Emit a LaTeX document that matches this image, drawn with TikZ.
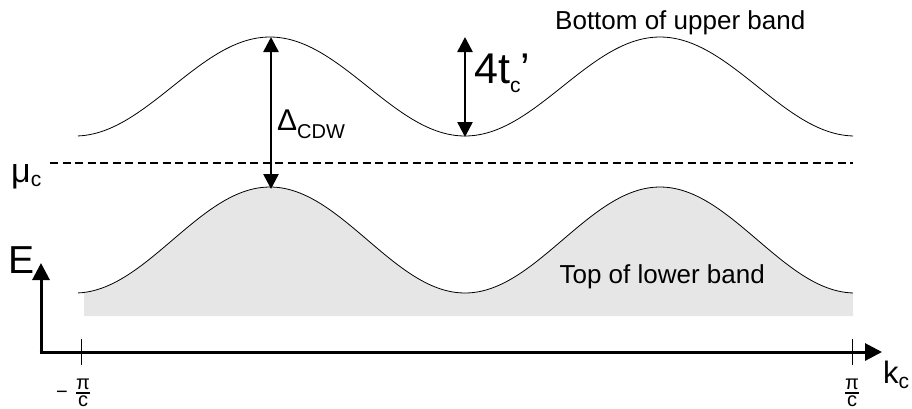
\documentclass[tikz,border=0pt]{standalone}
\usepackage{fontspec}
\setmainfont{Liberation Sans}
\usetikzlibrary{arrows.meta}
\definecolor{bandgray}{HTML}{E6E6E6}
\tikzset{
  band/.style={line width=0.8pt},
  dblarrow/.style={line width=2.6pt,{Triangle[length=15pt,width=15pt]}-{Triangle[length=15pt,width=15pt]}},
  axis/.style={line width=3pt,-{Triangle[length=17pt,width=17pt]}},
  tick/.style={line width=1pt},
  lbl/.style={inner sep=0pt,font=\fontsize{26}{28}\selectfont},
  frac/.style={inner sep=0pt,font=\fontsize{20}{22}\selectfont,anchor=base},
}
\begin{document}
\begin{tikzpicture}[x=1pt,y=-1pt]
\useasboundingbox (0,0) rectangle (912,408);
% lower band fill
\fill[bandgray] (84,316) -- plot[domain=84:853,samples=200] (\x,{240-53*cos((\x-270)*0.9230769)}) -- (853,316) -- cycle;
% lower band curve
\draw[band] plot[domain=78:853,samples=200] (\x,{240-53*cos((\x-270)*0.9230769)});
% upper band curve
\draw[band] plot[domain=78:853,samples=200] (\x,{86.5-49.5*cos((\x-270)*0.9230769)});
% chemical potential
\coordinate (mu1) at (50,163);
\coordinate (mu2) at (853,163);
\draw[line width=2.6pt,dash pattern=on 8pt off 4.5pt] (mu1) -- (mu2);
\node[inner sep=0pt,anchor=base west,font=\fontsize{34}{36}\selectfont] (mu) at (11,182) {μ\raisebox{-4pt}{\fontsize{21}{21}\selectfont c}};
% arrows
\coordinate (dtop) at (271,37);
\coordinate (dbot) at (271,189);
\draw[dblarrow] (dtop) -- (dbot);
\node[inner sep=0pt,anchor=base west,font=\fontsize{30}{32}\selectfont] (delta) at (277,130) {Δ\raisebox{-8pt}{\fontsize{20}{20}\selectfont CDW}};
\coordinate (ttop) at (465,37);
\coordinate (tbot) at (465,137);
\draw[dblarrow] (ttop) -- (tbot);
\node[inner sep=0pt,anchor=base west,font=\fontsize{43}{45}\selectfont] (tprime) at (474,83) {4t\raisebox{-9pt}{\fontsize{21}{21}\selectfont c}’};
% labels
\node[lbl,anchor=base west] (upper) at (555,29) {Bottom of upper band};
\node[lbl,anchor=base east] (lower) at (765,283) {Top of lower band};
% axes
\coordinate (origin) at (41,352);
\coordinate (ytip) at (41,263);
\coordinate (xtip) at (882,352);
\draw[axis] ([yshift=-1.5pt]origin) -- (ytip);
\draw[axis] ([xshift=-1.5pt]origin) -- (xtip);
\node[inner sep=0pt,anchor=base west,font=\fontsize{39}{41}\selectfont] (E) at (8,273) {E};
\node[inner sep=0pt,anchor=base west,font=\fontsize{31}{33}\selectfont] (k) at (883,383) {k\raisebox{-5pt}{\fontsize{21}{21}\selectfont c}};
% ticks
\coordinate (t1a) at (81,339); \coordinate (t1b) at (81,365);
\coordinate (t2a) at (852,339); \coordinate (t2b) at (852,365);
\draw[tick] (t1a) -- (t1b);
\draw[tick] (t2a) -- (t2b);
% fractions -pi/c and pi/c
\node[frac] (lpin) at (83,389) {π};
\node[frac] (lpid) at (83,406.5) {c};
\node[frac] (lminus) at (62,398) {−};
\coordinate (lb1) at (76,393); \coordinate (lb2) at (90,393);
\draw[line width=1.2pt] (lb1) -- (lb2);
\node[frac] (rpin) at (852,389) {π};
\node[frac] (rpid) at (852,406.5) {c};
\coordinate (rb1) at (845,393); \coordinate (rb2) at (859,393);
\draw[line width=1.2pt] (rb1) -- (rb2);
\end{tikzpicture}
\end{document}
